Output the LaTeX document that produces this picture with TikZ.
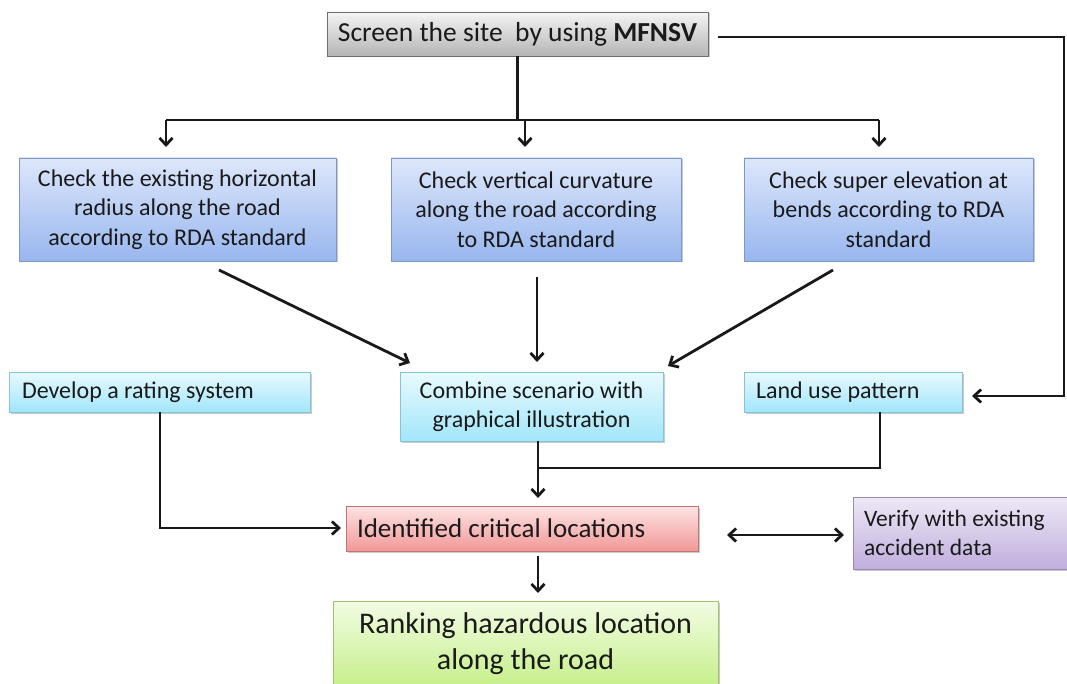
\documentclass[tikz,border=0pt]{standalone}
\usepackage{fontspec}
\setmainfont{Carlito}
\usetikzlibrary{arrows.meta,shadows,positioning}
\definecolor{grayT}{HTML}{F4F4F4}\definecolor{grayB}{HTML}{B5B5B5}\definecolor{grayD}{HTML}{6F6F6F}
\definecolor{blueT}{HTML}{DDE7FB}\definecolor{blueB}{HTML}{98B6EE}\definecolor{blueD}{HTML}{7B98C9}
\definecolor{cyanT}{HTML}{E8FAFE}\definecolor{cyanB}{HTML}{A2E6FA}\definecolor{cyanD}{HTML}{86C3D6}
\definecolor{redT}{HTML}{FDE3E3}\definecolor{redB}{HTML}{F29898}\definecolor{redD}{HTML}{C27474}
\definecolor{purT}{HTML}{EEE8F6}\definecolor{purB}{HTML}{C0AEDD}\definecolor{purD}{HTML}{9A88B6}
\definecolor{grnT}{HTML}{F2FCE4}\definecolor{grnB}{HTML}{C6EF8A}\definecolor{grnD}{HTML}{9DC46B}
\definecolor{txtc}{HTML}{1A1A1A}
\tikzset{
  box/.style={rectangle, inner sep=0pt, line width=0.8pt, text=txtc, drop shadow={shadow xshift=1.5pt, shadow yshift=-1.5pt, opacity=0.35, fill=black!60}},
  graybox/.style={box, draw=grayD, top color=grayT, bottom color=grayB},
  bluebox/.style={box, draw=blueD, top color=blueT, bottom color=blueB},
  cyanbox/.style={box, draw=cyanD, top color=cyanT, bottom color=cyanB},
  redbox/.style={box, draw=redD, top color=redT, bottom color=redB},
  purbox/.style={box, draw=purD, top color=purT, bottom color=purB},
  grnbox/.style={box, draw=grnD, top color=grnT, bottom color=grnB},
  conn/.style={line width=2.8pt, black!90},
  tip/.style={Straight Barb[length=7pt,width=13pt,line width=2.8pt]},
  arr/.style={conn, -{Straight Barb[length=7pt,width=13pt,line width=2.8pt]}},
  darr/.style={conn, {Straight Barb[length=7pt,width=13pt,line width=2.8pt]}-{Straight Barb[length=7pt,width=13pt,line width=2.8pt]}},
  txt/.style={font=\fontsize{24}{29.5}\selectfont},
}
\begin{document}
\begin{tikzpicture}[x=1pt,y=-1pt]
\useasboundingbox (0,0) rectangle (1067,684);
% nodes
\node[graybox, minimum width=381pt, minimum height=44pt, font=\fontsize{27.5}{30}\selectfont] (top) at (517.5,34) {Screen the site\ \ by using \textbf{MFNSV}};
\node[bluebox, minimum width=317pt, minimum height=103pt, txt, align=center] (A) at (177.5,209.5) {Check the existing horizontal\\radius along the road\\according to RDA standard};
\node[bluebox, minimum width=290pt, minimum height=103pt, txt, align=center] (B) at (536,209.5) {Check vertical curvature\\along the road according\\to RDA standard};
\node[bluebox, minimum width=289pt, minimum height=103pt, txt, align=center] (C) at (888.5,209.5) {Check super elevation at\\bends according to RDA\\standard};
\node[cyanbox, minimum width=301pt, minimum height=40pt, txt, align=flush left, text width=275pt] (D) at (159.5,392) {Develop a rating system};
\node[cyanbox, minimum width=263pt, minimum height=69pt, txt, align=center] (E) at (531.5,406.5) {Combine scenario with\\graphical illustration};
\node[cyanbox, minimum width=218pt, minimum height=40pt, txt, align=flush left, text width=194pt] (L) at (853,392) {Land use pattern};
\node[redbox, minimum width=352pt, minimum height=45pt, font=\fontsize{27}{30}\selectfont, align=flush left, text width=330pt] (I) at (522,528.5) {Identified critical locations};
\node[purbox, minimum width=216pt, minimum height=72pt, font=\fontsize{23.5}{29.5}\selectfont, align=flush left, text width=194pt] (V) at (961,533) {Verify with existing\\accident data};
\node[grnbox, minimum width=385pt, minimum height=86pt, font=\fontsize{30}{36}\selectfont, align=center] (R) at (525.5,644) {Ranking hazardous location\\along the road};
% coordinates
\coordinate (tj) at (517.5,120);
\coordinate (tl) at (166,120);
\coordinate (tm) at (525,120);
\coordinate (tr) at (879,120);
\coordinate (al) at (166,147);
\coordinate (am) at (525,147);
\coordinate (ar) at (879,147);
\coordinate (r0) at (718,37);
\coordinate (r1) at (1064,37);
\coordinate (r2) at (1064,396);
\coordinate (r3) at (972,396);
\coordinate (a0) at (219,270);
\coordinate (a1) at (410,363);
\coordinate (b0) at (537,277);
\coordinate (b1) at (537,362);
\coordinate (c0) at (833,270);
\coordinate (c1) at (668,366);
\coordinate (d0) at (160,412);
\coordinate (d1) at (160,528);
\coordinate (d2) at (341,528);
\coordinate (e0) at (538,441);
\coordinate (e1) at (538,498);
\coordinate (l0) at (880,412);
\coordinate (l1) at (880,468);
\coordinate (l2) at (538,468);
\coordinate (v0) at (727,535);
\coordinate (v1) at (844,535);
\coordinate (i0) at (538,556);
\coordinate (i1) at (538,593);
% connectors
\draw[conn] (top.south -| tj) -- (tj);
\draw[conn] (tl) -- (tr);
\draw[arr] (tl) -- (al);
\draw[arr] (tm) -- (am);
\draw[arr] (tr) -- (ar);
\draw[arr] (r0) -- (r1) -- (r2) -- (r3);
\draw[arr] (a0) -- (a1);
\draw[arr] (b0) -- (b1);
\draw[arr] (c0) -- (c1);
\draw[arr] (d0) -- (d1) -- (d2);
\draw[arr] (e0) -- (e1);
\draw[conn] (l0) -- (l1) -- (l2);
\draw[darr] (v0) -- (v1);
\draw[arr] (i0) -- (i1);
\end{tikzpicture}
\end{document}
